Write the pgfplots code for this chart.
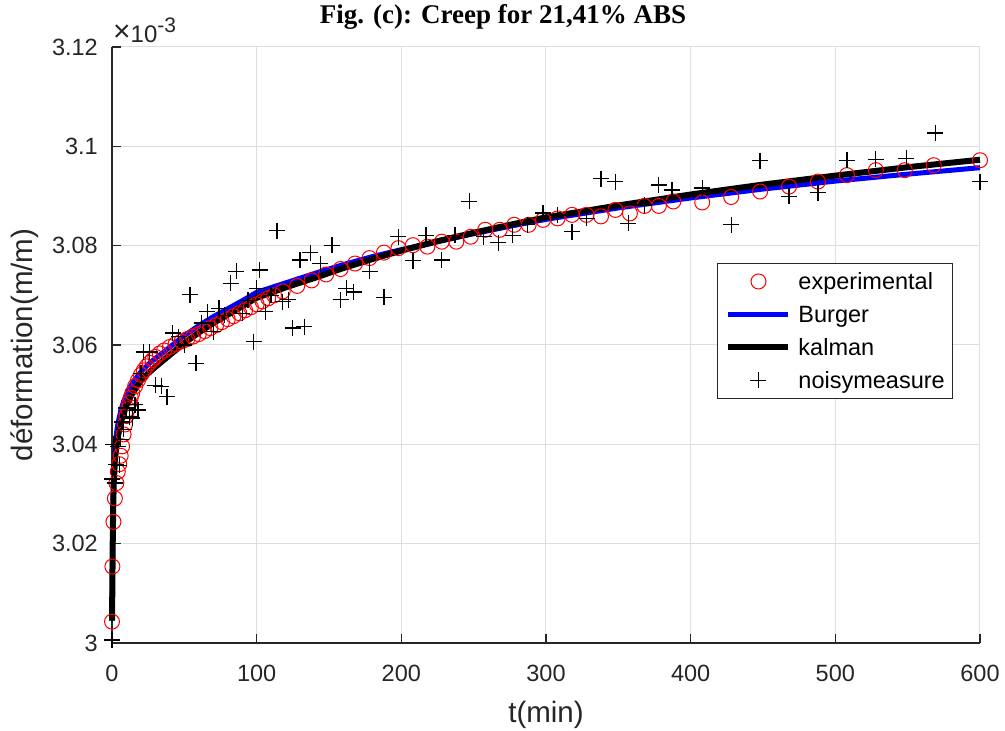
\documentclass[border=0pt]{standalone}
\usepackage{fontspec}
\setmainfont{Liberation Sans}
\newfontfamily\titlefont{Liberation Serif}
\usepackage{pgfplots}
\usepackage{pgfplotstable}
\pgfplotsset{compat=1.18}

\definecolor{axisgray}{rgb}{0.15,0.15,0.15}
\definecolor{gridgray}{rgb}{0.87,0.87,0.87}

% strain values in units of 1e-3 m/m
\pgfplotstableread{
t y
0 3.0043
0.3 3.0154
1 3.0244
2 3.0291
3 3.0322
4 3.0345
5 3.0360
6 3.0377
7 3.0396
8 3.0420
9 3.0440
10 3.0457
11 3.0471
12 3.0483
13 3.0494
14 3.0503
16 3.0517
18 3.0529
20 3.0540
22 3.0549
24 3.0557
26 3.0564
28 3.0570
30 3.0576
33 3.0583
36 3.0589
40 3.0596
44 3.0602
48 3.0607
52 3.0612
56 3.0617
60 3.0622
64 3.0628
68 3.0634
72 3.0640
76 3.0646
80 3.0652
84 3.0658
88 3.0664
92 3.0670
96 3.0676
100 3.0682
104 3.0688
108 3.0694
112 3.0700
118 3.0708
128 3.0719
138 3.0730
148 3.0742
158 3.0753
168 3.0764
178 3.0775
188 3.0786
198 3.0795
208 3.0801
218 3.0798
228 3.0808
238 3.0808
248 3.0818
258 3.0832
268 3.0832
278 3.0842
288 3.0842
298 3.0852
308 3.0855
318 3.0862
328 3.0862
338 3.0859
348 3.0872
358 3.0865
368 3.0880
378 3.0880
388 3.0889
408 3.0887
428 3.0898
448 3.0909
468 3.0919
488 3.0929
508 3.0942
528 3.0952
548 3.0952
568 3.0962
600 3.0972
}\experimental

\pgfplotstableread{
t y
0 3.0045
0.2 3.0115
0.5 3.0225
0.8 3.0295
1.2 3.0345
2 3.0392
3 3.0420
4 3.0440
6 3.0467
8 3.0486
10 3.0500
13 3.0518
16 3.0531
20 3.0546
25 3.0561
30 3.0573
35 3.0584
40 3.0596
50 3.0619
60 3.0639
70 3.0657
80 3.0673
90 3.0689
100 3.0706
120 3.0725
140 3.0744
160 3.0762
180 3.0778
200 3.0792
225 3.0808
250 3.0824
275 3.0839
300 3.0853
350 3.0876
400 3.0896
450 3.0914
500 3.0930
550 3.0944
600 3.0957
}\burger

\pgfplotstableread{
t y
0 3.0045
0.2 3.0100
0.5 3.0200
0.8 3.0270
1.2 3.0320
2 3.0368
3 3.0395
4 3.0415
6 3.0443
8 3.0462
10 3.0478
13 3.0497
16 3.0511
20 3.0528
25 3.0543
30 3.0556
35 3.0568
40 3.0580
50 3.0604
60 3.0625
70 3.0644
80 3.0661
90 3.0678
100 3.0695
120 3.0716
140 3.0735
160 3.0755
180 3.0773
200 3.0790
225 3.0809
250 3.0826
275 3.0842
300 3.0857
350 3.0881
400 3.0903
450 3.0923
500 3.0941
550 3.0958
600 3.0973
}\kalman

\pgfplotstableread{
t y
0 3.0006
0.3 3.0330
1 3.0400
2 3.0322
3 3.0360
4 3.0395
5 3.0358
6 3.0410
7 3.0445
8 3.0430
10 3.0473
12 3.0455
14 3.0453
16 3.0480
18 3.0469
20 3.0543
22 3.0586
26 3.0586
30 3.0519
34 3.0517
38 3.0496
42 3.0624
46 3.0617
50 3.0600
54 3.0701
58 3.0563
62 3.0644
66 3.0667
70 3.0627
74 3.0674
78 3.0660
82 3.0724
86 3.0748
90 3.0664
94 3.0690
98 3.0607
100 3.0714
102 3.0751
106 3.0667
110 3.0700
114 3.0830
118 3.0687
122 3.0691
125 3.0634
130 3.0771
133 3.0637
137 3.0786
144 3.0764
152 3.0801
158 3.0691
162 3.0714
167 3.0707
178 3.0748
188 3.0696
198 3.0818
208 3.0770
217 3.0821
228 3.0771
237 3.0821
247 3.0889
257 3.0818
267 3.0806
277 3.0821
287 3.0842
298 3.0866
308 3.0862
318 3.0828
328 3.0855
338 3.0935
348 3.0929
357 3.0845
368 3.0882
378 3.0922
387 3.0912
408 3.0916
428 3.0842
448 3.0971
468 3.0899
488 3.0907
508 3.0972
528 3.0974
549 3.0976
569 3.1027
600 3.0929
}\noisy

\begin{document}
\begin{tikzpicture}
\useasboundingbox (-112pt,-88pt) rectangle (893pt,643pt);
\begin{axis}[
  scale only axis, width=868pt, height=596pt,
  xmin=0, xmax=600, ymin=3, ymax=3.12,
  xtick={0,100,200,300,400,500,600},
  ytick={3,3.02,3.04,3.06,3.08,3.1,3.12},
  scaled ticks=false,
  clip=false,
  axis lines=left,
  x axis line style={-},
  y axis line style={-},
  axis line style={draw=axisgray, line width=1.3pt},
  tick align=inside, major tick length=9pt,
  tick style={draw=axisgray, line width=1.3pt},
  grid=major,
  major grid style={draw=gridgray, line width=1pt},
  /pgf/number format/assume math mode=true,
  tick label style={font=\fontsize{23.5}{28}\selectfont, text=axisgray},
  xticklabel style={anchor=north, inner sep=0pt, yshift=-22pt},
  yticklabel style={anchor=east, inner sep=0pt, xshift=-14pt},
  xlabel={t(min)},
  ylabel={déformation(m/m)},
  every axis x label/.style={at={(axis description cs:0.5,-0.1326)}, anchor=base,
    font=\fontsize{29.5}{32}\selectfont, text=axisgray},
  every axis y label/.style={at={(axis description cs:-0.1002,0.5)}, rotate=90, anchor=center,
    font=\fontsize{29.5}{32}\selectfont, text=axisgray},
  title={Fig. (c): Creep for 21,41\% ABS},
  title style={at={(axis description cs:0.4505,1.0294)}, anchor=base,
    font=\titlefont\bfseries\fontsize{27}{30}\selectfont},
  legend image code/.code={\draw[mark repeat=2,mark phase=2,#1] plot coordinates {(0pt,0pt) (30pt,0pt) (60pt,0pt)};},
  legend cell align=left,
  legend style={at={(axis description cs:0.697,0.6376)}, anchor=north west,
    draw=axisgray, line width=1pt, fill=white,
    font=\fontsize{23.5}{28}\selectfont,
    inner xsep=8pt, inner ysep=1.5pt,
    row sep=0pt, column sep=7pt,
    nodes={inner xsep=0pt, inner ysep=5pt, text height=20pt, text depth=3pt}},
]
\addplot[only marks, mark=o, draw=red, mark size=7.5pt, mark options={line width=1pt}] table {\experimental};
\addlegendentry{experimental}
\addplot[blue, line width=5pt, no marks, line join=round] table {\burger};
\addlegendentry{Burger}
\addplot[black, line width=6pt, no marks, line join=round] table {\kalman};
\addlegendentry{kalman}
\addplot[only marks, mark=+, draw=black, mark size=8pt, mark options={line width=1.3pt}] table {\noisy};
\addlegendentry{noisymeasure}
\node[anchor=base west, inner sep=0pt, text=axisgray, font=\fontsize{24}{28}\selectfont]
  at (rel axis cs:0,1) [xshift=1pt, yshift=4.3pt]
  {\raisebox{1pt}{\fontsize{30}{30}\selectfont ×}10\raisebox{10pt}{\fontsize{21}{22}\selectfont -3}};
\end{axis}
\end{tikzpicture}
\end{document}
